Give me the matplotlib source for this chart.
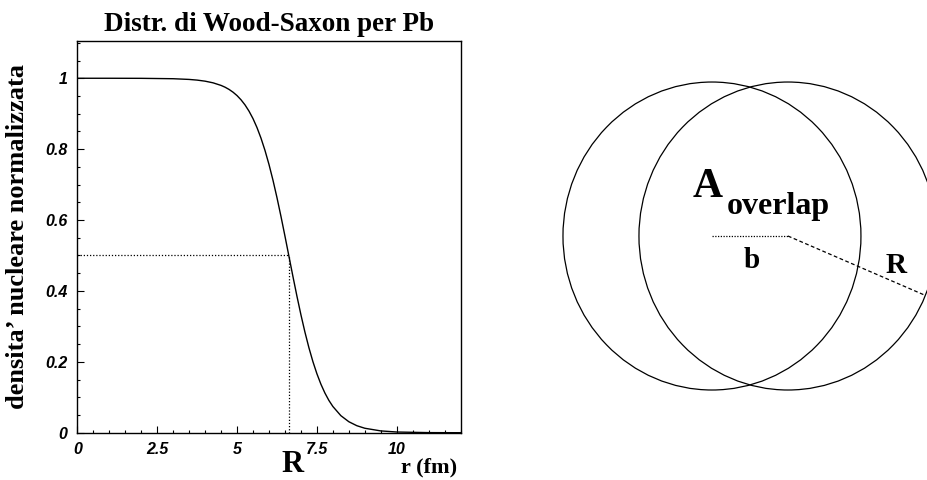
import numpy as np
import matplotlib.pyplot as plt
from matplotlib.patches import Circle
from matplotlib.ticker import MultipleLocator

# Wood-Saxon density for Pb
r_fm = [0, 1, 2, 3, 3.5, 3.75, 4, 4.25, 4.5, 4.625, 4.75, 4.875, 5, 5.125,
        5.25, 5.375, 5.5, 5.625, 5.75, 5.875, 6, 6.125, 6.25, 6.375, 6.5,
        6.625, 6.75, 6.875, 7, 7.125, 7.25, 7.375, 7.5, 7.625, 7.75, 7.875,
        8, 8.25, 8.5, 8.75, 9, 9.5, 10, 11, 12]
rho = [1.0, 1.0, 0.9998, 0.9987, 0.9967, 0.9948, 0.9918, 0.9871, 0.9798,
       0.9748, 0.9685, 0.9607, 0.9511, 0.9392, 0.9248, 0.9072, 0.8861,
       0.8608, 0.8310, 0.7964, 0.7569, 0.7124, 0.6633, 0.6104, 0.5547,
       0.4977, 0.4407, 0.3853, 0.3327, 0.2840, 0.2398, 0.2006, 0.1664,
       0.1370, 0.1121, 0.0912, 0.0740, 0.0481, 0.0310, 0.0198, 0.0126,
       0.0051, 0.0020, 0.0003, 0.0]
R_pb = 6.62
half = 0.5

# overlap sketch (units of the nuclear radius)
R_circ = 1.0
b_sep = 0.51
r_angle = -22.7

serif = 'Liberation Serif'
tickfont = dict(family='Liberation Sans', weight='bold', style='italic', size=11.5)

fig = plt.figure(figsize=(9.28, 4.8), dpi=100)

# left panel
ax = fig.add_axes([0.0833, 0.0985, 0.4131, 0.816])
ax.plot(r_fm, rho, color='black', lw=1.0)
ax.plot([0, R_pb], [half, half], color='black', lw=0.9, ls=(0, (1, 1.5)))
ax.plot([R_pb, R_pb], [0, half], color='black', lw=0.9, ls=(0, (1, 1.5)))
ax.set_xlim(0, 12)
ax.set_ylim(0, 1.105)
ax.xaxis.set_minor_locator(MultipleLocator(0.5))
ax.yaxis.set_minor_locator(MultipleLocator(0.05))
ax.set_xticks([0, 2.5, 5, 7.5, 10])
ax.set_xticklabels(['0', '2.5', '5', '7.5', '10'], fontdict=tickfont)
ax.set_yticks([0, 0.2, 0.4, 0.6, 0.8, 1])
ax.set_yticklabels(['0', '0.2', '0.4', '0.6', '0.8', '1'], fontdict=tickfont)
ax.tick_params(which='both', direction='in', top=False, right=False)
ax.tick_params(which='major', length=5, width=0.8, pad=7)
ax.tick_params(which='minor', length=2.5, width=0.8)
for s in ax.spines.values():
    s.set_linewidth(1.0)
ax.set_title('Distr. di Wood-Saxon per Pb', family=serif, weight='bold',
             fontsize=19.5, pad=7)
ax.set_ylabel('densita’ nucleare normalizzata', family=serif, weight='bold',
              fontsize=19, labelpad=12)
trans = ax.get_xaxis_transform()
ax.text(6.74, -0.100, 'R', transform=trans, family=serif, weight='bold',
        fontsize=22, ha='center', va='baseline')
ax.text(0.99, -0.102, 'r (fm)', transform=ax.transAxes, family=serif,
        weight='bold', fontsize=16, ha='right', va='baseline')

# right panel
ax2 = fig.add_axes([0.5906, 0.1554, 0.4094, 0.7058])
ax2.set_xlim(-1.1, 1.45)
ax2.set_ylim(-1.1, 1.1)
ax2.axis('off')
ax2.add_patch(Circle((0, 0), R_circ, fill=False, color='black', lw=0.9))
ax2.add_patch(Circle((b_sep, 0), R_circ, fill=False, color='black', lw=0.9))
ax2.plot([0, b_sep], [0, 0], color='black', lw=0.9, ls=(0, (1, 1.2)))
th = np.deg2rad(r_angle)
ax2.plot([b_sep, b_sep + R_circ * np.cos(th)], [0, R_circ * np.sin(th)],
         color='black', lw=0.9, ls=(0, (3, 2)))
ax2.text(-0.128, 0.255, 'A', family=serif, weight='bold', fontsize=30,
         va='baseline', ha='left')
ax2.text(0.10, 0.14, 'overlap', family=serif, weight='bold', fontsize=23,
         va='baseline', ha='left')
ax2.text(0.268, -0.208, 'b', family=serif, weight='bold', fontsize=21,
         va='baseline', ha='center')
ax2.text(1.235, -0.24, 'R', family=serif, weight='bold', fontsize=21,
         va='baseline', ha='center')

fig.savefig('out.png', dpi=100)
